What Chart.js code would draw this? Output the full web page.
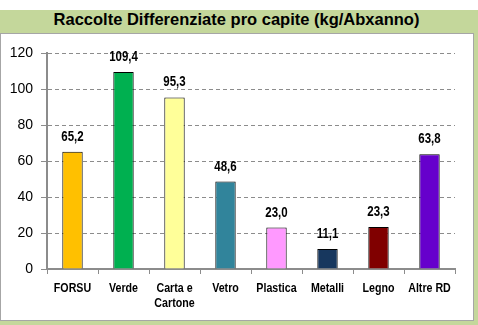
<!DOCTYPE html>
<html>
<head>
<meta charset="utf-8">
<script src="https://cdn.jsdelivr.net/npm/chart.js@4/dist/chart.umd.min.js"></script>
<style>
  html, body { margin: 0; padding: 0; background: #ffffff; }
  #wrap { position: relative; width: 478px; height: 325px; overflow: hidden; }
  #frame { position: absolute; left: 0; top: 10px; width: 478px; height: 315px; background: #c4d79b; }
  #title { position: absolute; left: 0; top: 10px; width: 473px; height: 23px; line-height: 23px;
           text-align: center; font: bold 16.5px "Liberation Sans", Arial, sans-serif; color: #000; }
  #panel { position: absolute; left: 0; top: 33px; width: 472px; height: 286px; background: #ffffff;
           border: 1px solid #a6a6a6; }
  #c { position: absolute; left: 0; top: 0; }
</style>
</head>
<body>
<div id="wrap">
  <div id="frame"></div>
  <div id="title">Raccolte Differenziate pro capite (kg/Abxanno)</div>
  <div id="panel"></div>
  <canvas id="c" width="478" height="325"></canvas>
</div>
<script>
// Separate-collection categories and per-capita quantities (kg per inhabitant per year)
const categories = ['FORSU', 'Verde', ['Carta e', 'Cartone'], 'Vetro', 'Plastica', 'Metalli', 'Legno', 'Altre RD'];
const perCapita = [65.2, 109.4, 95.3, 48.6, 23.0, 11.1, 23.3, 63.8];
const barColors = ['#ffc000', '#00b050', '#ffff99', '#31849b', '#ff99ff', '#17375e', '#800000', '#6600cc'];
const yTicks = [0, 20, 40, 60, 80, 100, 120];

const sans = '"Liberation Sans", Arial, sans-serif';
const NARROW = 0.82; // horizontal squeeze that gives a narrow bold face

function narrowText(ctx, txt, x, y) {
  ctx.save();
  ctx.translate(x, y);
  ctx.scale(NARROW, 1);
  ctx.fillText(txt, 0, 0);
  ctx.restore();
}

// Writes each value above its bar (decimal comma) and the category names under the axis
const barText = {
  id: 'barText',
  afterDatasetsDraw(chart) {
    const ctx = chart.ctx;
    const meta = chart.getDatasetMeta(0);
    ctx.save();
    ctx.fillStyle = '#000';
    ctx.textAlign = 'center';
    ctx.textBaseline = 'alphabetic';
    ctx.font = 'bold 14px ' + sans;
    meta.data.forEach((bar, i) => {
      narrowText(ctx, perCapita[i].toFixed(1).replace('.', ','), bar.x, bar.y - 11);
    });
    const xs = chart.scales.x;
    const base = xs.bottom - 56 + 23;
    ctx.font = 'bold 13px ' + sans;
    categories.forEach((lab, i) => {
      const x = xs.getPixelForTick(i);
      const lines = Array.isArray(lab) ? lab : [lab];
      lines.forEach((ln, j) => narrowText(ctx, ln, x, base + j * 14.5));
    });
    ctx.restore();
  }
};

new Chart(document.getElementById('c'), {
  type: 'bar',
  data: {
    labels: categories,
    datasets: [{
      data: perCapita,
      backgroundColor: barColors,
      borderColor: '#000000',
      borderWidth: 1,
      borderSkipped: 'bottom',
      barPercentage: 0.4,
      categoryPercentage: 1.0
    }]
  },
  options: {
    responsive: false,
    animation: false,
    devicePixelRatio: 1,
    layout: { padding: { left: 0, top: 53, right: 23, bottom: 0 } },
    plugins: {
      legend: { display: false },
      tooltip: { enabled: false }
    },
    scales: {
      x: {
        offset: true,
        grid: {
          offset: true,
          drawOnChartArea: false,
          drawTicks: true,
          tickLength: 5,
          tickColor: '#8c8c8c',
          tickWidth: 1
        },
        border: { display: true, color: '#8c8c8c', width: 2 },
        ticks: { display: false, autoSkip: false },
        afterFit(scale) { scale.height = 56; }
      },
      y: {
        min: 0,
        max: 120,
        afterBuildTicks(scale) { scale.ticks = yTicks.map(v => ({ value: v })); },
        grid: {
          color: '#8c8c8c',
          lineWidth: 1,
          drawTicks: true,
          tickLength: 6,
          tickColor: '#8c8c8c',
          tickWidth: 1,
          tickBorderDash: []
        },
        border: { display: true, color: '#8c8c8c', width: 2, dash: [4, 3] },
        ticks: {
          color: '#000',
          font: { family: sans, size: 14 },
          padding: 8
        },
        afterFit(scale) { scale.width = 47; }
      }
    }
  },
  plugins: [barText]
});
</script>
</body>
</html>
